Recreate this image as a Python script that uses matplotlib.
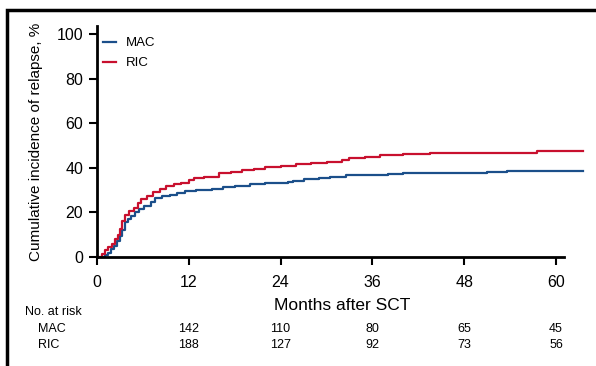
import matplotlib
matplotlib.use("Agg")
import matplotlib.pyplot as plt
from matplotlib.patches import Rectangle

# cumulative incidence step points (months, %)
mac_months = [0.6, 1.0, 1.4, 1.8, 2.2, 2.6, 3.0, 3.3, 3.6, 4.0, 4.5, 5.0, 5.5, 6.2, 7.0,
              7.6, 8.5, 9.5, 10.5, 11.5, 13, 15, 16.5, 18, 20, 22, 25, 25.6, 27, 29,
              30.5, 32.5, 38, 40, 51, 53.6, 63.5]
mac_pct = [0, 1, 2, 3.5, 5, 7, 9.5, 12, 15.5, 17, 18.5, 20, 21.5, 23, 24.5,
           26.5, 27.5, 28, 28.8, 29.5, 30, 30.5, 31.2, 32, 32.6, 33, 33.5, 34.2, 34.8, 35.4,
           36, 36.8, 37.2, 37.6, 38.1, 38.7, 38.7]
ric_months = [0.3, 0.7, 1.1, 1.5, 1.9, 2.3, 2.7, 3.0, 3.3, 3.7, 4.2, 4.8, 5.3, 5.8, 6.5,
              7.3, 8.2, 9.0, 10, 11, 12, 12.7, 14, 16, 17.5, 19, 20.5, 22, 24, 26,
              28, 30, 32, 33, 35, 37, 40, 43.5, 57.5, 63.5]
ric_pct = [0, 1.5, 3, 4.5, 6, 8, 10, 12.5, 16, 19, 20.5, 22, 24, 26, 27.5,
           29, 30.5, 32, 32.6, 33.4, 34.5, 35.5, 36, 37.5, 38, 39, 39.6, 40.2, 40.6, 41.5,
           42.2, 42.8, 43.5, 44.3, 45, 45.6, 46, 46.5, 47.5, 47.5]

risk_months = [12, 24, 36, 48, 60]
mac_at_risk = [142, 110, 80, 65, 45]
ric_at_risk = [188, 127, 92, 73, 56]

x_ticks = [0, 12, 24, 36, 48, 60]
y_ticks = [0, 20, 40, 60, 80, 100]

MAC_COLOR = "#1b4f8a"
RIC_COLOR = "#c8102e"
plt.rcParams["font.family"] = ["Liberation Sans", "DejaVu Sans"]

fig = plt.figure(figsize=(5.96, 3.66), dpi=100)
ax_w, ax_h = 64 * 7.65, 104 * 2.23  # axes size in pixels
ax = fig.add_axes([97 / 596, 1 - 257 / 366, ax_w / 596, ax_h / 366])

ax.step(mac_months, mac_pct, where="post", color=MAC_COLOR, lw=1.6, label="MAC", clip_on=False)
ax.step(ric_months, ric_pct, where="post", color=RIC_COLOR, lw=1.6, label="RIC", clip_on=False)

ax.set_xlim(0, 64)
ax.set_ylim(0, 104)
ax.set_xticks(x_ticks)
ax.set_yticks(y_ticks)
for side in ("top", "right"):
    ax.spines[side].set_visible(False)
ax.spines["left"].set_bounds(0, 103.5)
ax.spines["bottom"].set_bounds(0, 61)
for side in ("left", "bottom"):
    ax.spines[side].set_linewidth(2)
ax.tick_params(direction="out", length=6, width=1.5, labelsize=11.5)
ax.tick_params(axis="y", pad=4)
ax.tick_params(axis="x", pad=7)

ax.set_ylabel("Cumulative incidence of relapse, %", fontsize=11)
ax.yaxis.set_label_coords((43 - 97) / ax_w, (257 - 142) / ax_h)
ax.set_xlabel("Months after SCT", fontsize=12.5, labelpad=6)

ax.legend(loc="upper left", bbox_to_anchor=(-0.012, 1.0), frameon=False, fontsize=9.5,
          handlelength=0.95, handletextpad=0.8, labelspacing=0.6)

# number-at-risk table
fig.text(25 / 596, 1 - 312 / 366, "No. at risk", fontsize=9, va="center")
fig.text(38 / 596, 1 - 329 / 366, "MAC", fontsize=9, va="center")
fig.text(38 / 596, 1 - 345 / 366, "RIC", fontsize=9, va="center")
for m, a, b in zip(risk_months, mac_at_risk, ric_at_risk):
    xf = (97 + m * 7.65) / 596
    fig.text(xf, 1 - 329 / 366, str(a), fontsize=9, ha="center", va="center")
    fig.text(xf, 1 - 345 / 366, str(b), fontsize=9, ha="center", va="center")

fig.patches.append(Rectangle((7 / 596, -0.1), 1.2, 1.1 - 10 / 366, transform=fig.transFigure,
                             fill=False, lw=2.5, ec="black"))

fig.savefig("out.png", dpi=100)
